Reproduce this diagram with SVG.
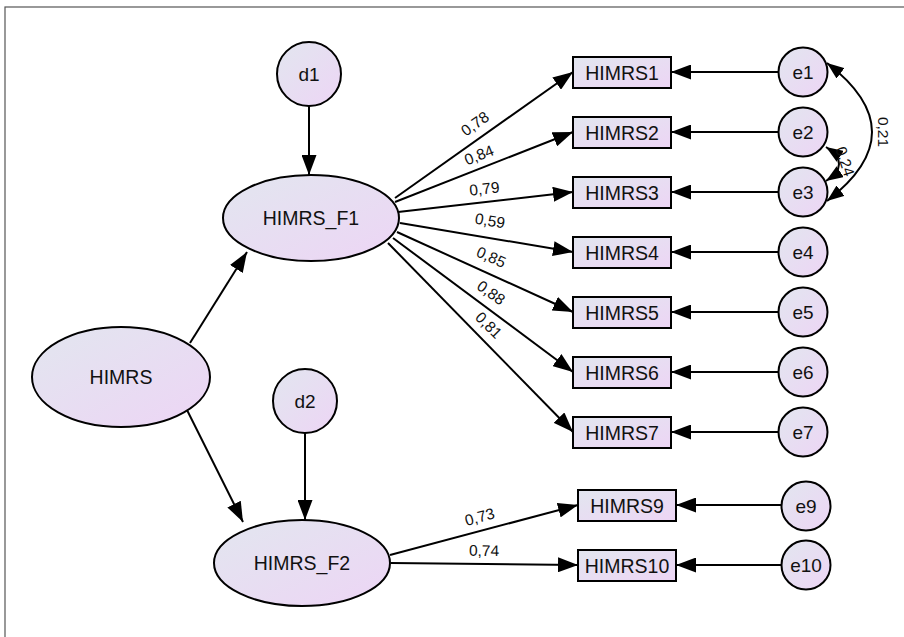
<svg xmlns="http://www.w3.org/2000/svg" width="904" height="637" viewBox="0 0 904 637">
<defs>
<linearGradient id="g" x1="0" y1="0" x2="1" y2="1">
<stop offset="0" stop-color="#e2e6ef"/>
<stop offset="1" stop-color="#edd5f5"/>
</linearGradient>
<marker id="ah" markerUnits="userSpaceOnUse" markerWidth="21" markerHeight="15" refX="20" refY="7.5" orient="auto-start-reverse">
<path d="M0,0 L20,7.5 L0,15 Z" fill="#000"/>
</marker>
<marker id="ahs" markerUnits="userSpaceOnUse" markerWidth="18" markerHeight="13" refX="17" refY="6.5" orient="auto-start-reverse">
<path d="M0,0 L17,6.5 L0,13 Z" fill="#000"/>
</marker>
</defs>
<style>
.n{fill:url(#g);stroke:#000;stroke-width:2}
.t{font-family:"Liberation Sans",Arial,sans-serif;font-size:19.5px;fill:#111;text-anchor:middle;dominant-baseline:central}
.e{font-size:19px}
.l{font-family:"Liberation Sans",Arial,sans-serif;font-size:15.5px;fill:#111;text-anchor:middle}
.c{stroke:#000;stroke-width:2;fill:none;marker-end:url(#ah)}
.cv{stroke:#000;stroke-width:2;fill:none;marker-start:url(#ahs);marker-end:url(#ahs)}
</style>
<rect x="5" y="7" width="910" height="650" fill="#fff" stroke="#555" stroke-width="1.2"/>

<g id="connectors">
<line class="c" x1="309" y1="106" x2="309" y2="175"/>
<line class="c" x1="305" y1="433" x2="305" y2="520"/>
<line class="c" x1="190" y1="343" x2="247" y2="252"/>
<line class="c" x1="187" y1="410" x2="243" y2="522"/>
<line class="c" x1="395" y1="198" x2="573" y2="72"/>
<line class="c" x1="395" y1="202" x2="573" y2="132"/>
<line class="c" x1="398" y1="212" x2="573" y2="192"/>
<line class="c" x1="400" y1="223" x2="573" y2="252"/>
<line class="c" x1="397" y1="232" x2="573" y2="312"/>
<line class="c" x1="393" y1="238" x2="573" y2="372"/>
<line class="c" x1="388" y1="243" x2="573" y2="432"/>
<line class="c" x1="390" y1="555" x2="578" y2="505"/>
<line class="c" x1="391" y1="563" x2="578" y2="565"/>
<line class="c" x1="779" y1="72" x2="671" y2="72"/>
<line class="c" x1="779" y1="132" x2="671" y2="132"/>
<line class="c" x1="779" y1="192" x2="671" y2="192"/>
<line class="c" x1="779" y1="252" x2="671" y2="252"/>
<line class="c" x1="779" y1="312" x2="671" y2="312"/>
<line class="c" x1="779" y1="372" x2="671" y2="372"/>
<line class="c" x1="779" y1="432" x2="671" y2="432"/>
<line class="c" x1="782" y1="505" x2="676" y2="505"/>
<line class="c" x1="782" y1="565" x2="676" y2="565"/>
<path class="cv" d="M827,63 Q917,132 827,201"/>
<path class="cv" d="M826,147 Q852,164 826,181"/>
<g class="l">
<text transform="translate(478,128) rotate(-35)">0,78</text>
<text transform="translate(481,160) rotate(-21.5)">0,84</text>
<text transform="translate(485,194) rotate(-6.5)">0,79</text>
<text transform="translate(489,226) rotate(9.5)">0,59</text>
<text transform="translate(489,262) rotate(24)">0,85</text>
<text transform="translate(488,297) rotate(36)">0,88</text>
<text transform="translate(485,329) rotate(45)">0,81</text>
<text transform="translate(481,522) rotate(-15)">0,73</text>
<text transform="translate(484,556) rotate(0.6)">0,74</text>
<text transform="translate(878,132) rotate(90)">0,21</text>
<text transform="translate(840,163) rotate(72)">0,24</text>
</g>
</g>

<g id="d1"><circle class="n" cx="309" cy="74" r="32"/><text class="t e" x="309" y="74">d1</text></g>
<g id="d2"><circle class="n" cx="305" cy="401" r="32"/><text class="t e" x="305" y="401">d2</text></g>
<g id="HIMRS_F1"><ellipse class="n" cx="311" cy="218" rx="88" ry="43"/><text class="t" x="311" y="218">HIMRS_F1</text></g>
<g id="HIMRS"><ellipse class="n" cx="121" cy="377" rx="89" ry="50"/><text class="t" x="121" y="377">HIMRS</text></g>
<g id="HIMRS_F2"><ellipse class="n" cx="302" cy="563" rx="88" ry="43"/><text class="t" x="302" y="563">HIMRS_F2</text></g>

<g id="HIMRS1"><rect class="n" x="573" y="57" width="98" height="31"/><text class="t" x="622" y="72.5">HIMRS1</text></g>
<g id="HIMRS2"><rect class="n" x="573" y="117" width="98" height="31"/><text class="t" x="622" y="132.5">HIMRS2</text></g>
<g id="HIMRS3"><rect class="n" x="573" y="177" width="98" height="31"/><text class="t" x="622" y="192.5">HIMRS3</text></g>
<g id="HIMRS4"><rect class="n" x="573" y="237" width="98" height="31"/><text class="t" x="622" y="252.5">HIMRS4</text></g>
<g id="HIMRS5"><rect class="n" x="573" y="297" width="98" height="31"/><text class="t" x="622" y="312.5">HIMRS5</text></g>
<g id="HIMRS6"><rect class="n" x="573" y="357" width="98" height="31"/><text class="t" x="622" y="372.5">HIMRS6</text></g>
<g id="HIMRS7"><rect class="n" x="573" y="417" width="98" height="31"/><text class="t" x="622" y="432.5">HIMRS7</text></g>
<g id="HIMRS9"><rect class="n" x="578" y="490" width="98" height="31"/><text class="t" x="627" y="505.5">HIMRS9</text></g>
<g id="HIMRS10"><rect class="n" x="578" y="550" width="98" height="31"/><text class="t" x="627" y="565.5">HIMRS10</text></g>

<g id="e1"><circle class="n" cx="803" cy="72" r="24.5"/><text class="t e" x="803" y="72">e1</text></g>
<g id="e2"><circle class="n" cx="803" cy="132" r="24.5"/><text class="t e" x="803" y="132">e2</text></g>
<g id="e3"><circle class="n" cx="803" cy="192" r="24.5"/><text class="t e" x="803" y="192">e3</text></g>
<g id="e4"><circle class="n" cx="803" cy="252" r="24.5"/><text class="t e" x="803" y="252">e4</text></g>
<g id="e5"><circle class="n" cx="803" cy="312" r="24.5"/><text class="t e" x="803" y="312">e5</text></g>
<g id="e6"><circle class="n" cx="803" cy="372" r="24.5"/><text class="t e" x="803" y="372">e6</text></g>
<g id="e7"><circle class="n" cx="803" cy="432" r="24.5"/><text class="t e" x="803" y="432">e7</text></g>
<g id="e9"><circle class="n" cx="806" cy="506" r="24.5"/><text class="t e" x="806" y="506">e9</text></g>
<g id="e10"><circle class="n" cx="806" cy="565" r="24.5"/><text class="t e" x="806" y="565">e10</text></g>
</svg>
